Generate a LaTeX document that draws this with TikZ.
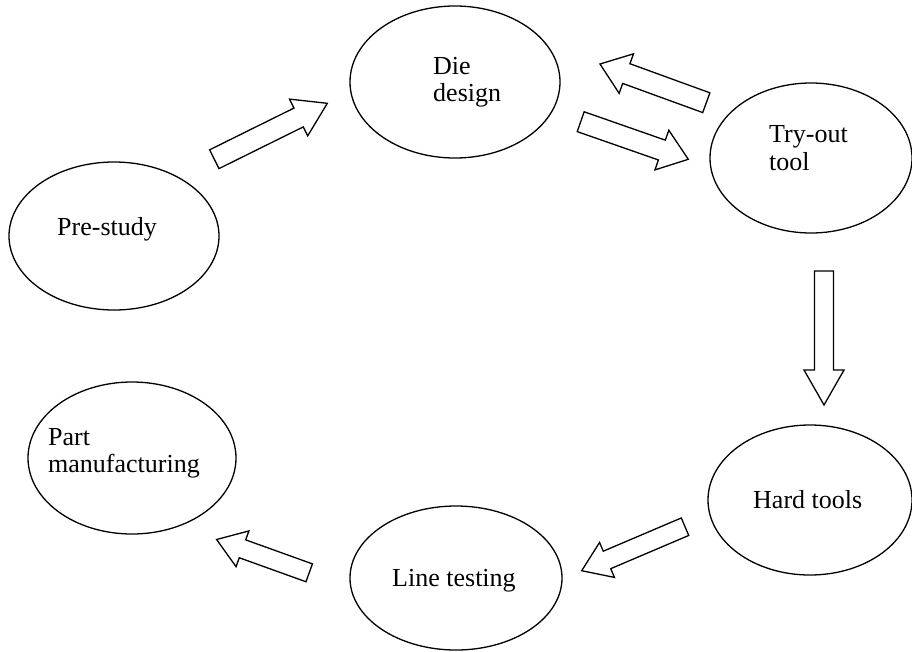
\documentclass[tikz,border=0pt]{standalone}
\usepackage{fontspec}
\setmainfont{Liberation Serif}
\usetikzlibrary{shapes.geometric,calc}
\tikzset{
  stage/.style={draw, ellipse, line width=1.3pt, inner sep=0pt},
  lbl/.style={anchor=base west, inner sep=0pt, font=\fontsize{26}{29}\selectfont},
  blockarr/.style={draw, line width=1.3pt, line join=miter, fill=white}
}
\newcommand\blockarrow[5]{%
  \path ($(#2)!#5pt!(#1)$) coordinate (#1h);
  \draw[blockarr] ($(#1)!#3pt!90:(#2)$) -- ($(#1h)!#3pt!90:(#2)$) -- ($(#1h)!#4pt!90:(#2)$) -- (#2)
    -- ($(#1h)!#4pt!-90:(#2)$) -- ($(#1h)!#3pt!-90:(#2)$) -- ($(#1)!#3pt!-90:(#2)$) -- cycle;}
\begin{document}
\begin{tikzpicture}[x=1pt,y=-1pt]
\useasboundingbox (0,0) rectangle (912,651);
% stages
\node[stage, minimum width=210pt, minimum height=148pt] (pre) at (114,236) {};
\node[stage, minimum width=210pt, minimum height=152pt] (die) at (455,82) {};
\node[stage, minimum width=202pt, minimum height=150pt] (try) at (811,158) {};
\node[stage, minimum width=204pt, minimum height=150pt] (hard) at (810,500) {};
\node[stage, minimum width=212pt, minimum height=144pt] (line) at (456,578) {};
\node[stage, minimum width=208pt, minimum height=152pt] (part) at (132,458) {};
% labels
\node[lbl] (pre-l) at (57,235) {Pre-study};
\node[lbl] (die-l1) at (433,74) {Die};
\node[lbl] (die-l2) at (433,101) {design};
\node[lbl] (try-l1) at (769,142) {Try-out};
\node[lbl] (try-l2) at (769,170) {tool};
\node[lbl] (hard-l) at (753,508) {Hard tools};
\node[lbl] (line-l) at (392,586) {Line testing};
\node[lbl] (part-l1) at (48,445) {Part};
\node[lbl] (part-l2) at (48,472) {manufacturing};
% arrow ends
\coordinate (a1s) at (214.3,159.2); \coordinate (a1e) at (327.3,103.3);
\coordinate (a2s) at (706.3,102.7); \coordinate (a2e) at (600,64);
\coordinate (a3s) at (580.7,121.7); \coordinate (a3e) at (688.3,159.3);
\coordinate (a4s) at (824,271);     \coordinate (a4e) at (824,405);
\coordinate (a5s) at (685,526.7);   \coordinate (a5e) at (581.7,570.7);
\coordinate (a6s) at (309.2,572.8); \coordinate (a6e) at (216.6,539.5);
\blockarrow{a1s}{a1e}{10.5}{20.5}{32}
\blockarrow{a2s}{a2e}{10.5}{21}{28}
\blockarrow{a3s}{a3e}{10.5}{21}{28}
\blockarrow{a4s}{a4e}{9.5}{20}{35}
\blockarrow{a5s}{a5e}{9.5}{19}{27.5}
\blockarrow{a6s}{a6e}{9.5}{19}{27.5}
\end{tikzpicture}
\end{document}
